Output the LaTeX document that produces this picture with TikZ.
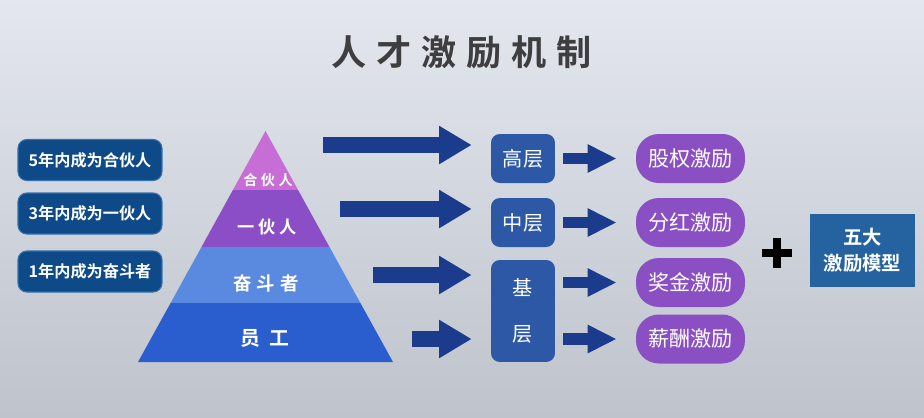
\documentclass[tikz,border=0pt]{standalone}
\usepackage{fontspec}
\setmainfont{Noto Sans CJK SC}[BoldFont={Noto Sans CJK SC Bold}]
\usetikzlibrary{arrows.meta, positioning, calc}

\definecolor{fondhaut}{HTML}{E4E7EE}
\definecolor{fondbas}{HTML}{BEC3CC}
\definecolor{titregris}{HTML}{3E3E40}
\definecolor{objbleu}{HTML}{0E4A88}
\definecolor{objbord}{HTML}{3470AE}
\definecolor{rose}{HTML}{C76DD6}
\definecolor{violet}{HTML}{8B4EC7}
\definecolor{bleuclair}{HTML}{5A8AE0}
\definecolor{bleu}{HTML}{2A5ECF}
\definecolor{flechebleu}{HTML}{1B3C8C}
\definecolor{niveaubleu}{HTML}{2D58A6}
\definecolor{pilule}{HTML}{8A4FC3}
\definecolor{modele}{HTML}{2563A0}

\begin{document}
\begin{tikzpicture}[x=0.02cm, y=-0.02cm,
  objectif/.style={draw=objbord, line width=0.6pt, fill=objbleu, rounded corners=5pt,
    text=white, font=\bfseries\fontsize{9.2}{10}\selectfont,
    minimum width=28.8mm, minimum height=8.2mm, inner sep=0pt},
  etage/.style={text=white, font=\bfseries, inner sep=0pt},
  niveau/.style={fill=niveaubleu, rounded corners=5pt, text=white,
    font=\fontsize{11.5}{13}\selectfont, minimum width=12.8mm, minimum height=9.8mm, inner sep=0pt},
  incitation/.style={fill=pilule, rounded corners=13pt, text=white,
    font=\fontsize{12}{13}\selectfont, minimum width=21.8mm, minimum height=9.8mm, inner sep=0pt},
  fleche/.style={draw=flechebleu, line width=9pt, -{Triangle[width=20.5pt, length=18.5pt]}, shorten >=10.8pt},
  petitefleche/.style={draw=flechebleu, line width=6.8pt, -{Triangle[width=15pt, length=16.5pt]},
    shorten <=4.5pt, shorten >=10.8pt}]

  % Fond
  \shade[top color=fondhaut, bottom color=fondbas] (0,0) rectangle (924,417);
  \useasboundingbox (0,0) rectangle (924,417);

  % Titre
  \node[text=titregris, font=\bfseries\fontsize{20}{22}\selectfont\addfontfeatures{LetterSpace=28}] (titre) at (462,52) {人才激励机制};

  % Objectifs
  \node[objectif] (obj5) at (90,160) {5年内成为合伙人};
  \node[objectif] (obj3) at (90,213.5) {3年内成为一伙人};
  \node[objectif] (obj1) at (90,271.5) {1年内成为奋斗者};

  % Pyramide
  \fill[rose] (265.5,131) -- (298.1,190) -- (232.9,190) -- cycle;
  \fill[violet] (232.9,190) -- (298.1,190) -- (329.5,247) -- (201.5,247) -- cycle;
  \fill[bleuclair] (201.5,247) -- (329.5,247) -- (360.4,303) -- (170.6,303) -- cycle;
  \fill[bleu] (170.6,303) -- (360.4,303) -- (393,362) -- (138,362) -- cycle;
  \node[etage, font=\bfseries\fontsize{8}{9}\selectfont\addfontfeatures{LetterSpace=25}] (hehuo) at (268,180) {合伙人};
  \node[etage, font=\bfseries\fontsize{9.8}{11}\selectfont\addfontfeatures{LetterSpace=22}] (yihuo) at (267,227) {一伙人};
  \node[etage, font=\bfseries\fontsize{10.5}{12}\selectfont\addfontfeatures{LetterSpace=26}] (fendou) at (266,283) {奋斗者};
  \node[etage, font=\bfseries\fontsize{11.3}{12}\selectfont\addfontfeatures{LetterSpace=42}] (yuangong) at (265,338) {员工};

  % Niveaux
  \node[niveau] (gc) at (523,158.5) {高层};
  \node[niveau] (zc) at (523,222.5) {中层};
  \node[niveau, minimum height=20.4mm, align=center, font=\fontsize{11.5}{26}\selectfont] (jc) at (523,311) {基\\层};

  % Fleches pyramide -> niveaux
  \coordinate (d1) at (323,145);
  \coordinate (d2) at (340,209);
  \coordinate (d3) at (373,275);
  \coordinate (d4) at (412,339);
  \draw[fleche] (d1) -- (d1 -| gc.west);
  \draw[fleche] (d2) -- (d2 -| zc.west);
  \draw[fleche] (d3) -- (d3 -| jc.west);
  \draw[fleche] (d4) -- (d4 -| jc.west);

  % Incitations
  \node[incitation] (guquan) at (690.5,158.5) {股权激励};
  \node[incitation] (fenhong) at (690.5,222.5) {分红激励};
  \node[incitation] (jiangjin) at (690.5,282.5) {奖金激励};
  \node[incitation] (xinchou) at (690.5,339) {薪酬激励};

  % Fleches niveaux -> incitations
  \draw[petitefleche] (gc.east) -- (guquan.west);
  \draw[petitefleche] (zc.east) -- (fenhong.west);
  \draw[petitefleche] (jc.east |- jiangjin.west) -- (jiangjin.west);
  \draw[petitefleche] (jc.east |- xinchou.west) -- (xinchou.west);

  % Plus
  \draw[line width=4.6pt] (762,253) -- (792,253) (777,238) -- (777,268);

  % Cinq modeles
  \node[fill=modele, text=white, font=\bfseries\fontsize{11}{15}\selectfont, align=center,
    minimum width=21mm, minimum height=14.6mm, inner sep=0pt] (cinq) at (862.5,250.5) {五大\\激励模型};
\end{tikzpicture}
\end{document}
